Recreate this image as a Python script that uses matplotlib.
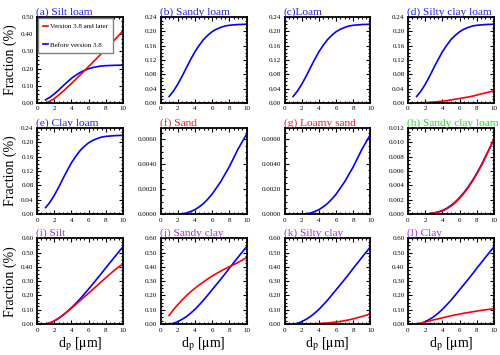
import matplotlib
matplotlib.use('Agg')
import matplotlib.pyplot as plt
import numpy as np
from matplotlib.ticker import AutoMinorLocator, FormatStrFormatter

plt.rcParams['font.family'] = 'Liberation Serif'
plt.rcParams['mathtext.fontset'] = 'stix'

# particle diameter (um), every 0.5
x = [1, 1.5, 2, 2.5, 3, 3.5, 4, 4.5, 5, 5.5, 6, 6.5, 7, 7.5, 8, 8.5, 9, 9.5, 10]

# "Before version 3.8" (blue) curves
blue_loam = [0.018, 0.033, 0.052, 0.074, 0.098, 0.121, 0.143, 0.161, 0.177, 0.189,
             0.199, 0.206, 0.211, 0.215, 0.217, 0.218, 0.219, 0.2195, 0.22]
blue_sand = [0, 0, 0, 0.00002, 0.00008, 0.0002, 0.00035, 0.00058, 0.00085, 0.0012,
             0.0016, 0.0021, 0.0026, 0.0032, 0.0038, 0.0045, 0.0052, 0.0058, 0.0064]
blue_scl = [0, 0.000003, 0.00001, 0.00005, 0.00015, 0.0003, 0.0005, 0.0008, 0.0012, 0.0017,
            0.0023, 0.003, 0.0038, 0.0047, 0.0057, 0.0068, 0.008, 0.0092, 0.0105]
blue_silt = [0, 0.008, 0.022, 0.04, 0.062, 0.087, 0.114, 0.144, 0.176, 0.21,
             0.245, 0.281, 0.318, 0.355, 0.393, 0.43, 0.467, 0.504, 0.54]
blue_clay = [0, 0.005, 0.017, 0.033, 0.052, 0.076, 0.103, 0.134, 0.167, 0.203,
             0.24, 0.276, 0.313, 0.351, 0.39, 0.428, 0.466, 0.503, 0.54]

# "Version 3.8 and later" (red) curves
zeros = [0.0] * 19
red_silt_loam = [0, 0.01, 0.025, 0.045, 0.066, 0.09, 0.113, 0.137, 0.162, 0.187,
                 0.212, 0.237, 0.262, 0.288, 0.314, 0.34, 0.366, 0.393, 0.42]
red_silty_clay_loam = [0, 0.0005, 0.001, 0.0017, 0.0025, 0.0036, 0.005, 0.0065, 0.0085, 0.0105,
                       0.0125, 0.0145, 0.0165, 0.019, 0.022, 0.025, 0.028, 0.031, 0.034]
red_scl = [0, 0.000002, 0.00001, 0.00004, 0.00012, 0.00026, 0.00045, 0.00073, 0.0011, 0.0016,
           0.0022, 0.0029, 0.0037, 0.0046, 0.0056, 0.0067, 0.0079, 0.0092, 0.0105]
red_silt = [0, 0.008, 0.022, 0.04, 0.062, 0.086, 0.111, 0.137, 0.163, 0.19,
            0.216, 0.243, 0.27, 0.297, 0.324, 0.35, 0.376, 0.4, 0.42]
red_sandy_clay = [0.06, 0.1, 0.135, 0.168, 0.198, 0.225, 0.25, 0.273, 0.295, 0.316,
                  0.335, 0.353, 0.37, 0.386, 0.401, 0.415, 0.43, 0.447, 0.465]
red_silty_clay = [0, 0, 0.001, 0.0015, 0.002, 0.003, 0.004, 0.006, 0.008, 0.011,
                  0.015, 0.019, 0.024, 0.03, 0.037, 0.045, 0.053, 0.062, 0.072]
red_clay = [0, 0.007, 0.014, 0.022, 0.03, 0.037, 0.044, 0.051, 0.058, 0.064,
            0.07, 0.076, 0.081, 0.086, 0.091, 0.096, 0.1, 0.104, 0.108]

titles = ['(a) Silt loam', '(b) Sandy loam', '(c)Loam', '(d) Silty clay loam',
          '(e) Clay loam', '(f) Sand', '(g) Loamy sand', '(h) Sandy clay loam',
          '(i) Silt', '(j) Sandy clay', '(k) Silty clay', '(l) Clay']
title_colors = ['#2222ee'] * 5 + ['#ee2222'] * 2 + ['#22dd22'] + ['#9933ee'] * 4

blues = [blue_loam] * 5 + [blue_sand, blue_sand, blue_scl, blue_silt] + [blue_clay] * 3
reds = [red_silt_loam, zeros, zeros, red_silty_clay_loam, zeros, zeros, zeros,
        red_scl, red_silt, red_sandy_clay, red_silty_clay, red_clay]

yticks = [np.arange(0, 0.51, 0.1)] + [np.arange(0, 0.25, 0.04)] * 4 + \
         [np.arange(0, 0.0061, 0.002)] * 2 + [np.arange(0, 0.0121, 0.002)] + \
         [np.arange(0, 0.61, 0.1)] * 4
ylims = [0.5] + [0.24] * 4 + [0.0069] * 2 + [0.012] + [0.6] * 4
yfmts = ['%.2f'] * 5 + ['%.4f'] * 2 + ['%.3f'] + ['%.2f'] * 4

fig = plt.figure(figsize=(5, 3.55), dpi=100)
lefts = [0.074, 0.321, 0.569, 0.816]
bottoms = [0.710, 0.397, 0.087]
w, h = 0.172, 0.242

for i in range(12):
    r, c = divmod(i, 4)
    ax = fig.add_axes([lefts[c], bottoms[r], w, h])
    l2, = ax.plot(x, blues[i], color='blue', lw=1.2, label='Before version 3.8')
    l1, = ax.plot(x, reds[i], color='red', lw=1.2, label='Version 3.8 and later')
    ax.set_xlim(0, 10)
    ax.set_ylim(0, ylims[i])
    ax.set_xticks([0, 2, 4, 6, 8, 10])
    ax.set_yticks(yticks[i])
    ax.yaxis.set_major_formatter(FormatStrFormatter(yfmts[i]))
    ax.xaxis.set_minor_locator(AutoMinorLocator(4))
    ax.yaxis.set_minor_locator(AutoMinorLocator(4))
    ax.tick_params(which='both', direction='in', top=True, right=True,
                   labelsize=5, width=0.8, pad=2.5)
    ax.tick_params(which='major', length=3)
    ax.tick_params(which='minor', length=1.5)
    for s in ax.spines.values():
        s.set_linewidth(1.3)
    ax.set_title(titles[i], color=title_colors[i], fontsize=8.2, loc='left', pad=2, x=-0.01)
    if c == 0:
        ax.set_ylabel('Fraction (%)', fontsize=10, labelpad=3)
    if r == 2:
        ax.set_xlabel(r'd$_\mathrm{p}$ [$\mathrm{\mu}$m]', fontsize=10, labelpad=2)
    if i == 0:
        leg = ax.legend(handles=[l1, l2], loc='upper left', fontsize=5,
                        handlelength=0.7, handletextpad=0.2, borderaxespad=0.1,
                        labelspacing=1.8, fancybox=False, framealpha=1,
                        borderpad=0.8)
        leg.get_frame().set_edgecolor('gray')
        leg.get_frame().set_linewidth(1.0)

fig.savefig('out.png', dpi=100)
